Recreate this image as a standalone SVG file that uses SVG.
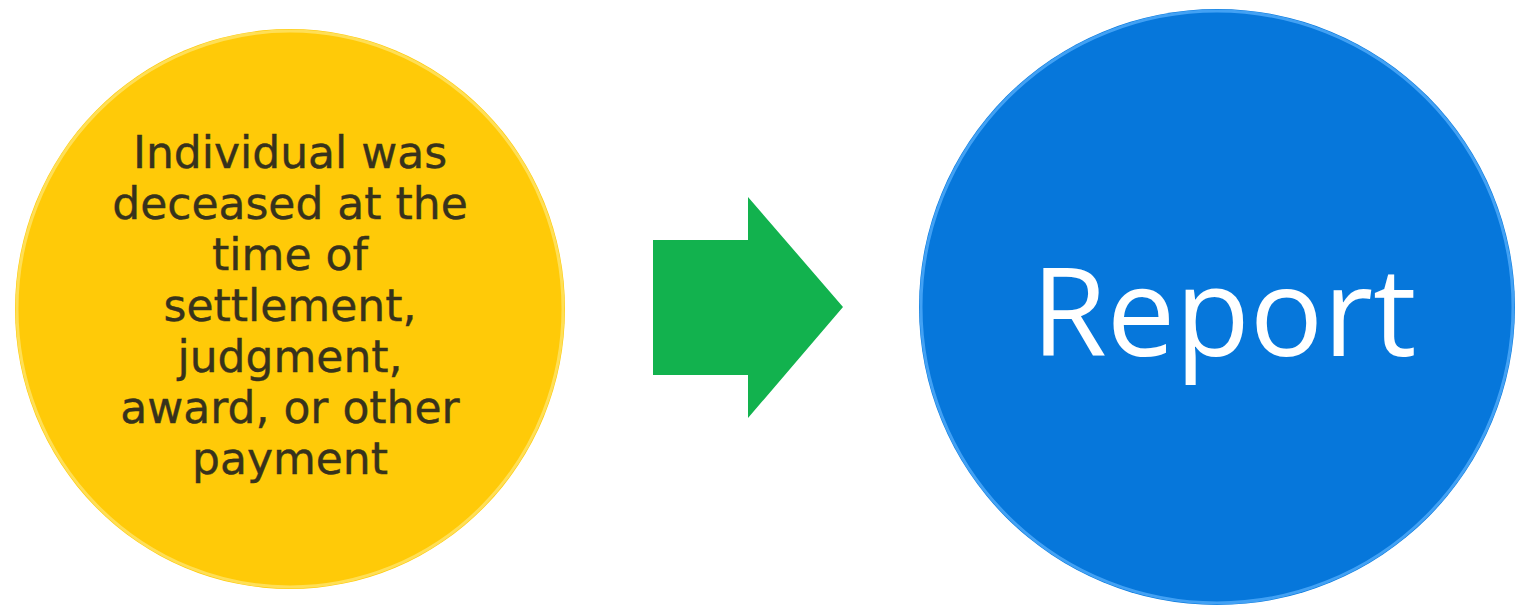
<svg xmlns="http://www.w3.org/2000/svg" width="1516" height="606" viewBox="0 0 1516 606">
  <style>
    .bg { fill: #ffffff; }
    .yellow { fill: #FFCA08; }
    .yrim { fill: none; stroke: #FFE36A; stroke-width: 3; opacity: 0.8; }
    .blue { fill: #0677DB; }
    .brim { fill: none; stroke: #5DB4FF; stroke-width: 3; opacity: 0.7; }
    .ytext { font-family: "DejaVu Sans", Verdana, sans-serif; font-size: 44px; fill: #37321C; text-anchor: middle; stroke: #37321C; stroke-width: 0.4; }
    .btext { font-family: "Open Sans", "Noto Sans", sans-serif; font-size: 122px; fill: #ffffff; text-anchor: middle; }
    .arrow { fill: #12B24E; }
  </style>
  <rect class="bg" x="0" y="0" width="1516" height="606"/>
  <g id="node-condition">
    <ellipse class="yellow" cx="290" cy="309" rx="275" ry="280"/>
    <ellipse class="yrim" cx="290" cy="309" rx="273" ry="278"/>
    <text class="ytext" x="290" y="168">Individual was</text>
    <text class="ytext" x="290" y="219">deceased at the</text>
    <text class="ytext" x="290" y="270">time of</text>
    <text class="ytext" x="290" y="321">settlement,</text>
    <text class="ytext" x="290" y="372">judgment,</text>
    <text class="ytext" x="290" y="423">award, or other</text>
    <text class="ytext" x="290" y="474">payment</text>
  </g>
  <g id="node-report">
    <circle class="blue" cx="1217" cy="307" r="298"/>
    <circle class="brim" cx="1217" cy="307" r="296"/>
    <text class="btext" x="1224" y="356">Report</text>
  </g>
  <g id="connectors">
    <polygon class="arrow" points="653,240 748,240 748,197 843,307 748,418 748,375 653,375"/>
  </g>
</svg>
